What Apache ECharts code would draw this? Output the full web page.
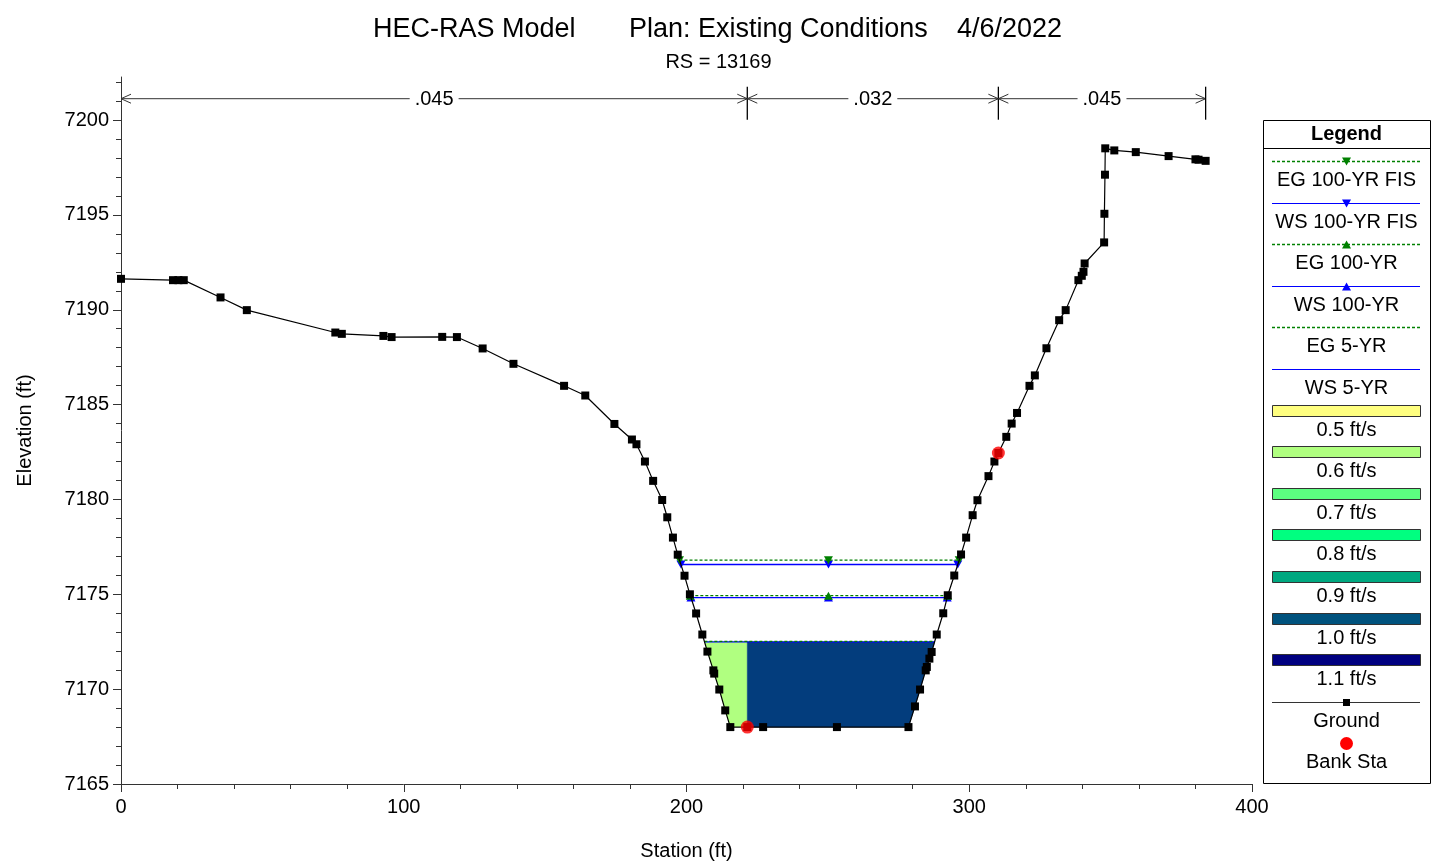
<!DOCTYPE html>
<html>
<head>
<meta charset="utf-8">
<title>HEC-RAS Cross Section RS 13169</title>
<script src="https://cdn.jsdelivr.net/npm/echarts@6/dist/echarts.min.js"></script>
<style>
  html, body { margin: 0; padding: 0; background: #fff; }
  #chart { width: 1437px; height: 868px; }
</style>
</head>
<body>
<div id="chart"></div>
<script>
// ---- Cross-section data (RS = 13169) ----
const groundStation = [
  0, 18.4, 20.3, 22.2, 35.2, 44.5, 75.8, 78.1, 92.8, 95.7,
  113.6, 118.8, 127.9, 138.8, 156.7, 164.2, 174.5, 180.7, 182.3, 185.3,
  188.2, 191.4, 193.2, 195.2, 196.9, 199.3, 201.2, 203.4, 205.6, 207.4,
  209.5, 209.8, 211.6, 213.7, 215.5, 221.5, 227.1, 253.2, 278.5, 280.8,
  282.6, 284.6, 285.0, 285.9, 286.7, 288.5, 290.8, 292.4, 294.7, 297.1,
  298.9, 301.2, 302.9, 306.8, 308.9, 310.3, 313.1, 315.0, 316.9, 321.3,
  323.2, 327.3, 331.8, 334.1, 338.6, 339.8, 340.4, 340.8, 347.7, 347.8,
  348.0, 348.1, 351.3, 358.9, 370.5, 380.0, 381.1, 383.6
];
const groundElevation = [
  7191.63, 7191.56, 7191.56, 7191.56, 7190.65, 7189.98, 7188.80, 7188.73, 7188.62, 7188.56,
  7188.57, 7188.56, 7187.96, 7187.15, 7185.99, 7185.48, 7183.98, 7183.16, 7182.91, 7182.00,
  7180.98, 7179.97, 7179.06, 7177.99, 7177.09, 7175.98, 7175.00, 7173.99, 7172.88, 7171.98,
  7170.99, 7170.82, 7169.98, 7168.88, 7168.00, 7168.00, 7168.00, 7168.00, 7168.00, 7169.09,
  7169.98, 7170.99, 7171.17, 7171.61, 7171.96, 7172.88, 7174.00, 7174.95, 7175.99, 7177.10,
  7177.99, 7179.17, 7179.96, 7181.23, 7182.00, 7182.45, 7183.30, 7184.00, 7184.56, 7185.99,
  7186.54, 7187.97, 7189.45, 7189.98, 7191.56, 7191.79, 7192.00, 7192.44, 7193.55, 7195.06,
  7197.12, 7198.51, 7198.40, 7198.31, 7198.10, 7197.93, 7197.91, 7197.85
];
const bankStations = [221.5, 310.3];

// Manning's n regions across the section
const nBreaks = [0, 221.5, 310.3, 383.6];
const nValues = ['.045', '.032', '.045'];

// Water surface profiles
const profileNames = ['EG 100-YR FIS', 'WS 100-YR FIS', 'EG 100-YR', 'WS 100-YR', 'EG 5-YR', 'WS 5-YR'];
const profileElevations = [7176.80, 7176.57, 7174.93, 7174.83, 7172.52, 7172.49];
const profileMarkerStation = 250.2;

// Velocity distribution legend and the WS 5-YR subsection fills
const velocityLabels = ['0.5 ft/s', '0.6 ft/s', '0.7 ft/s', '0.8 ft/s', '0.9 ft/s', '1.0 ft/s', '1.1 ft/s'];
const velocityColors = ['#FFFF80', '#B0FF80', '#5CFF80', '#00FF80', '#00A880', '#00527D', '#000080'];
const subsectionColors = ['#B0FF80', '#033D7D', '#B0FF80'];
const flowProfileIndex = 5; // WS 5-YR

// Axis ticks
const xTicks = [0, 100, 200, 300, 400];
const yTicks = [7165, 7170, 7175, 7180, 7185, 7190, 7195, 7200];

// ---- helpers ----
const FONT = '"Liberation Sans", Arial, Helvetica, sans-serif';
const yMin = 7165, yMax = 7202.27;
const EG_COLOR = '#008000', WS_COLOR = '#0000FF';

function groundAt(st) {
  for (let k = 0; k < groundStation.length - 1; k++) {
    const s0 = groundStation[k], s1 = groundStation[k + 1];
    if (st >= s0 && st <= s1) {
      if (s1 === s0) return groundElevation[k];
      const t = (st - s0) / (s1 - s0);
      return groundElevation[k] + t * (groundElevation[k + 1] - groundElevation[k]);
    }
  }
  return groundElevation[groundElevation.length - 1];
}

// wetted edges of a water level, walking out from the thalweg
function wetEdges(ws) {
  let thal = 0;
  groundElevation.forEach((e, k) => { if (e < groundElevation[thal]) thal = k; });
  let left = groundStation[0], right = groundStation[groundStation.length - 1];
  for (let k = thal; k > 0; k--) {
    if (groundElevation[k - 1] >= ws) {
      const t = (ws - groundElevation[k]) / (groundElevation[k - 1] - groundElevation[k]);
      left = groundStation[k] + t * (groundStation[k - 1] - groundStation[k]);
      break;
    }
  }
  for (let k = thal; k < groundStation.length - 1; k++) {
    if (groundElevation[k + 1] >= ws) {
      const t = (ws - groundElevation[k]) / (groundElevation[k + 1] - groundElevation[k]);
      right = groundStation[k] + t * (groundStation[k + 1] - groundStation[k]);
      break;
    }
  }
  return [left, right];
}

// ---- series ----
const series = [];

// velocity-coloured flow area of the WS 5-YR profile
const flowWs = profileElevations[flowProfileIndex];
const flowEdges = wetEdges(flowWs);
series.push({
  type: 'custom',
  name: 'flow area',
  z: 1,
  silent: true,
  encode: { x: [0, 1], y: 2 },
  data: subsectionColors.map((c, i) => [nBreaks[i], nBreaks[i + 1], flowWs]),
  renderItem: function (params, api) {
    const i = params.dataIndex;
    const a = Math.max(api.value(0), flowEdges[0]);
    const b = Math.min(api.value(1), flowEdges[1]);
    if (b <= a) return null;
    const pts = [api.coord([a, flowWs]), api.coord([b, flowWs])];
    pts.push(api.coord([b, Math.min(groundAt(b), flowWs)]));
    for (let k = groundStation.length - 1; k >= 0; k--) {
      const s = groundStation[k];
      if (s > a && s < b) pts.push(api.coord([s, Math.min(groundElevation[k], flowWs)]));
    }
    pts.push(api.coord([a, Math.min(groundAt(a), flowWs)]));
    return {
      type: 'polygon',
      shape: { points: pts },
      style: { fill: subsectionColors[i], stroke: subsectionColors[i], lineWidth: 0.5 }
    };
  }
});

// water surface / energy grade lines
profileNames.forEach((name, i) => {
  const isEG = name.startsWith('EG');
  const ws = profileElevations[i];
  const [l, r] = wetEdges(ws);
  const color = isEG ? EG_COLOR : WS_COLOR;
  const hasMarker = name.indexOf('100-YR') >= 0;
  const down = name.indexOf('FIS') >= 0;
  series.push({
    type: 'line',
    name: name,
    z: isEG ? 3 : 2,
    silent: true,
    data: [[l, ws], [profileMarkerStation, ws], [r, ws]],
    showSymbol: hasMarker,
    symbol: 'triangle',
    symbolSize: [9, 8],
    symbolRotate: down ? 180 : 0,
    itemStyle: { color: color },
    lineStyle: isEG ? { color: color, width: 1.4, type: [3, 2] } : { color: color, width: 1.3 },
    animation: false
  });
});

// ground profile
series.push({
  type: 'line',
  name: 'Ground',
  z: 5,
  silent: true,
  data: groundStation.map((s, k) => [s, groundElevation[k]]),
  symbol: 'rect',
  symbolSize: 8,
  itemStyle: { color: '#000' },
  lineStyle: { color: '#000', width: 1.2 },
  animation: false
});

// bank stations
series.push({
  type: 'scatter',
  name: 'Bank Sta',
  z: 6,
  silent: true,
  data: bankStations.map(s => [s, groundAt(s)]),
  symbol: 'circle',
  symbolSize: 13,
  itemStyle: { color: '#FF0000' },
  animation: false
});

// Manning's n bar along the top of the plot
series.push({
  type: 'custom',
  name: 'n values',
  z: 4,
  silent: true,
  encode: { x: [0, 1], y: 2 },
  data: nValues.map((v, i) => [nBreaks[i], nBreaks[i + 1], yMax]),
  renderItem: function (params, api) {
    const x0 = api.coord([api.value(0), yMin])[0];
    const x1 = api.coord([api.value(1), yMin])[0];
    const y = params.coordSys.y + 21.7;
    const a = 10, h = 4.5;
    const stroke = { stroke: '#333', lineWidth: 1, fill: null };
    return {
      type: 'group',
      children: [
        { type: 'line', shape: { x1: x0, y1: y, x2: x1, y2: y }, style: stroke },
        { type: 'polyline', shape: { points: [[x0 + a, y - h], [x0, y], [x0 + a, y + h]] }, style: stroke },
        { type: 'polyline', shape: { points: [[x1 - a, y - h], [x1, y], [x1 - a, y + h]] }, style: stroke },
        { type: 'line', shape: { x1: x1, y1: y - 12, x2: x1, y2: y + 21 }, style: { stroke: '#000', lineWidth: 1.3 } },
        {
          type: 'text', x: (x0 + x1) / 2, y: y + 1,
          style: {
            text: nValues[params.dataIndex], fontSize: 20, fontFamily: FONT, fill: '#000',
            align: 'center', verticalAlign: 'middle', backgroundColor: '#fff', padding: [0, 5]
          }
        }
      ]
    };
  }
});

// ---- legend box ----
const legendItems = [];
profileNames.forEach((n, i) => legendItems.push({ kind: 'profile', name: n, idx: i }));
velocityLabels.forEach((n, i) => legendItems.push({ kind: 'velocity', name: n, idx: i }));
legendItems.push({ kind: 'ground', name: 'Ground' });
legendItems.push({ kind: 'bank', name: 'Bank Sta' });

const LX = 1263, LY = 120, LW = 167, LH = 663;
const lcx = LX + LW / 2;
const legendEls = [
  { type: 'rect', shape: { x: LX + 0.5, y: LY + 0.5, width: LW, height: LH }, style: { fill: '#fff', stroke: '#000', lineWidth: 1 } },
  { type: 'text', x: lcx, y: 134, style: { text: 'Legend', fontSize: 20, fontWeight: 'bold', fontFamily: FONT, fill: '#000', align: 'center', verticalAlign: 'middle' } },
  { type: 'line', shape: { x1: LX, y1: 148.5, x2: LX + LW, y2: 148.5 }, style: { stroke: '#000', lineWidth: 1 } }
];
legendItems.forEach((it, i) => {
  const y = Math.round(161 + i * 41.6) + 0.5;
  const x1 = 1272, x2 = 1420;
  if (it.kind === 'profile') {
    const isEG = it.name.startsWith('EG');
    const color = isEG ? EG_COLOR : WS_COLOR;
    legendEls.push({ type: 'line', shape: { x1: x1, y1: y, x2: x2, y2: y }, style: { stroke: color, lineWidth: isEG ? 1.3 : 1, lineDash: isEG ? [3, 2] : null } });
    if (it.name.indexOf('100-YR') >= 0) {
      const down = it.name.indexOf('FIS') >= 0;
      const pts = down ? [[lcx - 4.5, y - 4], [lcx + 4.5, y - 4], [lcx, y + 4]] : [[lcx - 4.5, y + 4], [lcx + 4.5, y + 4], [lcx, y - 4]];
      legendEls.push({ type: 'polygon', shape: { points: pts }, style: { fill: color } });
    }
  } else if (it.kind === 'velocity') {
    legendEls.push({ type: 'rect', shape: { x: x1 + 0.5, y: y - 6, width: x2 - x1, height: 11 }, style: { fill: velocityColors[it.idx], stroke: '#333', lineWidth: 1 } });
  } else if (it.kind === 'ground') {
    legendEls.push({ type: 'line', shape: { x1: x1, y1: y, x2: x2, y2: y }, style: { stroke: '#333', lineWidth: 1 } });
    legendEls.push({ type: 'rect', shape: { x: lcx - 3.5, y: y - 3.5, width: 7, height: 7 }, style: { fill: '#000' } });
  } else {
    legendEls.push({ type: 'circle', shape: { cx: lcx, cy: y, r: 6.5 }, style: { fill: '#FF0000' } });
  }
  legendEls.push({ type: 'text', x: lcx, y: y + 18.5, style: { text: it.name, fontSize: 20, fontFamily: FONT, fill: '#000', align: 'center', verticalAlign: 'middle' } });
});

// ---- chart ----
const chart = echarts.init(document.getElementById('chart'), null, { renderer: 'canvas' });
const minorY = [];
for (let v = yMin; v <= 7202; v++) if (yTicks.indexOf(v) < 0) minorY.push(v);
const plainNumber = v => String(v);
const titleStyle = { fontSize: 27, fontWeight: 'normal', fontFamily: FONT, color: '#000' };

chart.setOption({
  animation: false,
  backgroundColor: '#fff',
  title: [
    { text: 'HEC-RAS Model', left: 373, top: 16, padding: 0, textStyle: titleStyle },
    { text: 'Plan: Existing Conditions', left: 629, top: 16, padding: 0, textStyle: titleStyle },
    { text: '4/6/2022', left: 957, top: 16, padding: 0, textStyle: titleStyle },
    { text: 'RS = 13169', left: 'center', top: 52, padding: 0, textStyle: { fontSize: 20, fontWeight: 'normal', fontFamily: FONT, color: '#000' } }
  ],
  grid: { left: 121, top: 77, width: 1131, height: 707, containLabel: false },
  xAxis: {
    type: 'value', min: 0, max: 400, interval: 100,
    name: 'Station (ft)', nameLocation: 'middle', nameGap: 57,
    nameTextStyle: { fontSize: 20, fontFamily: FONT, color: '#000' },
    axisLine: { onZero: false, lineStyle: { color: '#333', width: 1 } },
    axisTick: { length: 8, lineStyle: { color: '#333' }, customValues: xTicks },
    minorTick: { show: true, splitNumber: 5, length: 5, lineStyle: { color: '#333' } },
    axisLabel: { fontSize: 20, fontFamily: FONT, color: '#000', margin: 13, customValues: xTicks, formatter: plainNumber },
    splitLine: { show: false }
  },
  yAxis: [
    {
      type: 'value', min: yMin, max: yMax, interval: 5,
      name: 'Elevation (ft)', nameLocation: 'middle', nameGap: 86,
      nameTextStyle: { fontSize: 20, fontFamily: FONT, color: '#000' },
      axisLine: { show: true, onZero: false, lineStyle: { color: '#333', width: 1 } },
      axisTick: { show: true, length: 8, lineStyle: { color: '#333' }, customValues: yTicks },
      axisLabel: { fontSize: 20, fontFamily: FONT, color: '#000', margin: 12, customValues: yTicks, formatter: plainNumber },
      splitLine: { show: false }
    },
    {
      type: 'value', min: yMin, max: yMax, position: 'left', offset: 0,
      axisLine: { show: false },
      axisTick: { show: true, length: 5, lineStyle: { color: '#333' }, customValues: minorY },
      axisLabel: { show: false },
      splitLine: { show: false }
    }
  ],
  series: series,
  graphic: { elements: legendEls }
});
</script>
</body>
</html>
